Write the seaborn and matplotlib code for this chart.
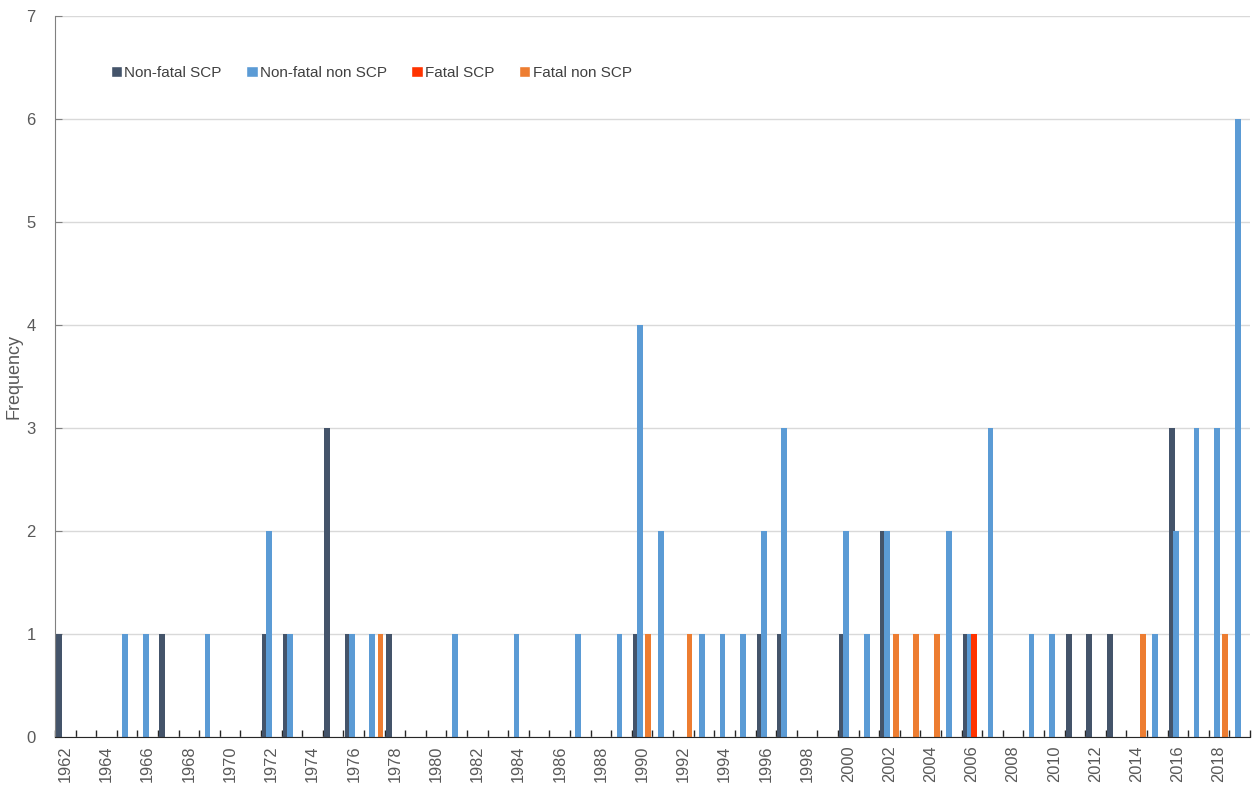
import numpy as np
import pandas as pd
import matplotlib
matplotlib.use("Agg")
import matplotlib.pyplot as plt
import seaborn as sns

YEARS = list(range(1962, 2020))

# counts per year (only non-zero years listed)
NONFATAL_SCP = {1962: 1, 1967: 1, 1972: 1, 1973: 1, 1975: 3, 1976: 1, 1978: 1,
                1990: 1, 1996: 1, 1997: 1, 2000: 1, 2002: 2, 2006: 1, 2011: 1,
                2012: 1, 2013: 1, 2016: 3}
NONFATAL_NON_SCP = {1965: 1, 1966: 1, 1969: 1, 1972: 2, 1973: 1, 1976: 1, 1977: 1,
                    1981: 1, 1984: 1, 1987: 1, 1989: 1, 1990: 4, 1991: 2, 1993: 1,
                    1994: 1, 1995: 1, 1996: 2, 1997: 3, 2000: 2, 2001: 1, 2002: 2,
                    2005: 2, 2006: 1, 2007: 3, 2009: 1, 2010: 1, 2015: 1, 2016: 2,
                    2017: 3, 2018: 3, 2019: 6}
FATAL_SCP = {2006: 1}
FATAL_NON_SCP = {1977: 1, 1990: 1, 1992: 1, 2002: 1, 2003: 1, 2004: 1, 2014: 1,
                 2018: 1}

SERIES = ["Non-fatal SCP", "Non-fatal non SCP", "Fatal SCP", "Fatal non SCP"]
COLORS = ["#44546A", "#5B9BD5", "#FF3300", "#ED7D31"]

rows = []
for name, d in zip(SERIES, [NONFATAL_SCP, NONFATAL_NON_SCP, FATAL_SCP, FATAL_NON_SCP]):
    for y in YEARS:
        rows.append({"year": str(y), "serie": name, "n": d.get(y, 0)})
df = pd.DataFrame(rows)

sns.set_style("white")
plt.rcParams["font.family"] = ["Liberation Sans", "DejaVu Sans"]

fig = plt.figure(figsize=(12.53, 7.88), dpi=100)
ax = fig.add_axes([0.0439, 0.0647, 0.9537, 0.915])

sns.barplot(data=df, x="year", y="n", hue="serie", hue_order=SERIES,
            palette=COLORS, width=0.8, saturation=1, ax=ax, legend=True)

# Excel-style overlapping bars: widen each bar around its centre
for p in ax.patches:
    if p.get_width() > 0 and p.get_height() >= 0:
        c = p.get_x() + p.get_width() / 2
        w = 0.28
        p.set_x(c - w / 2)
        p.set_width(w)
        p.set_linewidth(0)

ax.set_xlim(-0.5, len(YEARS) - 0.5)
ax.set_ylim(0, 7)
ax.set_yticks(range(0, 8))
ax.yaxis.grid(True, color="#D9D9D9", lw=1)
ax.set_axisbelow(True)

ax.set_xticks(range(0, len(YEARS), 2))
ax.set_xticklabels([str(y) for y in YEARS[::2]], rotation=90)
ax.set_xticks(np.arange(-0.5, len(YEARS), 1), minor=True)
ax.tick_params(axis="x", which="major", bottom=True, length=0, labelsize=11.8,
               labelcolor="#595959", pad=6)
ax.tick_params(axis="x", which="minor", bottom=True, length=5, width=1,
               direction="in", color="#262626")
ax.tick_params(axis="y", left=True, length=5, direction="in", labelsize=12,
               labelcolor="#595959", color="#808080", pad=14)

ax.set_xlabel("")
ax.set_ylabel("Frequency", fontsize=13, color="#595959")
ax.yaxis.set_label_coords(-0.0275, 0.5)

for s in ["top", "right"]:
    ax.spines[s].set_visible(False)
ax.spines["left"].set_color("#808080")
ax.spines["bottom"].set_color("#262626")

ax.legend(loc="upper left", bbox_to_anchor=(0.035, 0.95), ncol=4, frameon=False,
          fontsize=11, handlelength=0.75, handleheight=0.75, handletextpad=0.15,
          columnspacing=1.6, labelcolor="#404040")

fig.savefig("out.png", dpi=100)
